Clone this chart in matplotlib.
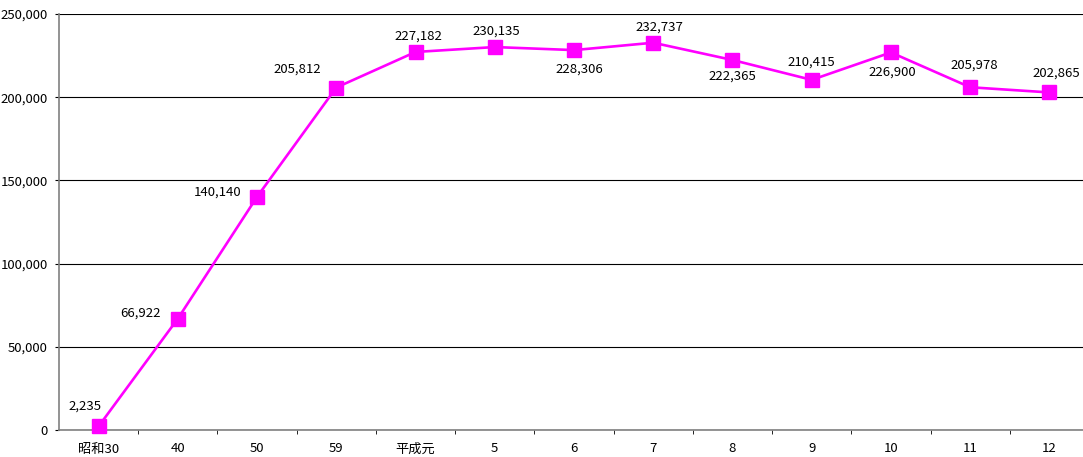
import matplotlib.pyplot as plt
from matplotlib.ticker import FuncFormatter, FixedLocator

plt.rcParams['font.family'] = ['Noto Sans CJK JP', 'DejaVu Sans']

categorias = ['昭和30', '40', '50', '59', '平成元', '5', '6', '7', '8', '9', '10', '11', '12']
valores = [2235, 66922, 140140, 205812, 227182, 230135, 228306, 232737,
           222365, 210415, 226900, 205978, 202865]
# deslocamento dos rótulos (pixels) em relação ao ponto
desloc_x = [-14, -37, -39, -39, 3, 2, 5, 6, 0, 0, 1, 4, 7]
desloc_y = [20, 6, 5, 18, 16, 16, -19, 16, -16, 18, -20, 22, 19]

W, H = 1083, 457
fig = plt.figure(figsize=(W / 100, H / 100), dpi=100)
ax = fig.add_axes([59 / W, 1 - 430 / H, 1030 / W, 416 / H])

x = list(range(len(categorias)))
ax.plot(x, valores, color='#FF00FF', linewidth=1.9, marker='s',
        markersize=10.5, markerfacecolor='#FF00FF', markeredgecolor='#FF00FF',
        zorder=3, clip_on=False)

for xi, v, dx, dy in zip(x, valores, desloc_x, desloc_y):
    ax.annotate(f'{v:,}', (xi, v), xytext=(dx, dy), textcoords='offset pixels',
                ha='center', va='center', fontsize=9.5, color='black')

ax.set_xlim(-0.5, len(categorias) - 0.5)
ax.set_ylim(0, 250000)
ax.set_xticks(x)
ax.set_xticklabels(categorias, fontsize=9.5)
ax.tick_params(axis='x', which='major', length=0, pad=9)
ax.xaxis.set_minor_locator(FixedLocator([i + 0.5 for i in x[:-1]]))
ax.tick_params(axis='x', which='minor', length=3, direction='out', color='black')

ax.set_yticks(range(0, 250001, 50000))
ax.yaxis.set_major_formatter(FuncFormatter(lambda v, p: f'{int(v):,}'))
ax.tick_params(axis='y', length=3, direction='out', pad=5, labelsize=9.5, color='black')

ax.grid(axis='y', color='black', linewidth=0.8)
for lado in ['left', 'bottom']:
    ax.spines[lado].set_color('#808080')
    ax.spines[lado].set_linewidth(1.2)
ax.spines['top'].set_visible(False)
ax.spines['right'].set_visible(False)

fig.savefig('out.png', dpi=100)
